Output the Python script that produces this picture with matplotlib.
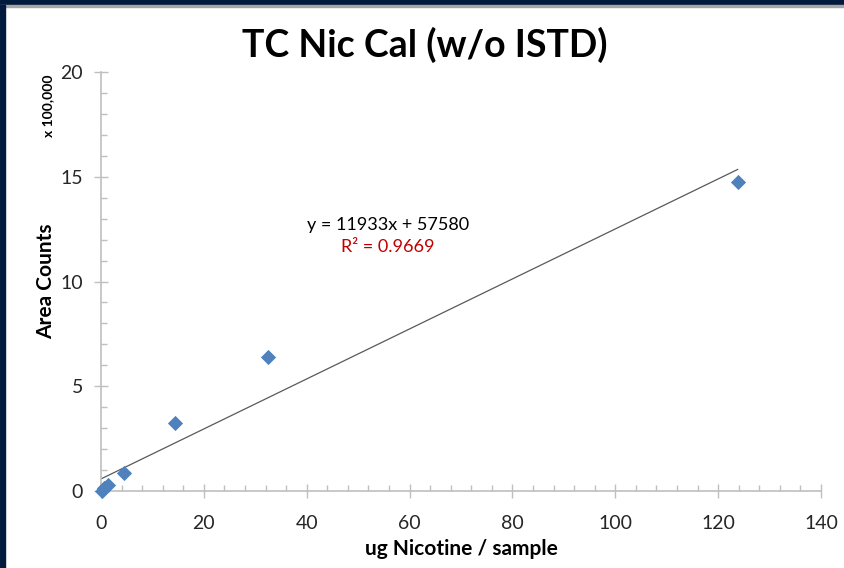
import matplotlib.pyplot as plt
import numpy as np
from matplotlib.patches import Rectangle
from matplotlib.ticker import MultipleLocator

# data in units of 100,000 area counts
nic_ug = [0.1, 0.6, 1.3, 4.5, 14.4, 32.5, 123.8]
area = [0.02, 0.14, 0.30, 0.86, 3.25, 6.40, 14.75]
slope = 11933
intercept = 57580
r2 = 0.9669

plt.rcParams['font.family'] = ['Lato', 'DejaVu Sans']

fig = plt.figure(figsize=(8.44, 5.68), dpi=100)
ax = fig.add_axes([0.1197, 0.1356, 0.853, 0.7376])

# dark frame bands of the slide
fig.patches.append(Rectangle((0, 1 - 5/568), 1, 5/568, transform=fig.transFigure, color='#021a3d', zorder=0))
fig.patches.append(Rectangle((0, 1 - 7/568), 1, 2/568, transform=fig.transFigure, color='#a6a6a6', zorder=0))
fig.patches.append(Rectangle((0, 0), 5/844, 1 - 5/568, transform=fig.transFigure, color='#021a3d', zorder=0))

xfit = np.array([0, max(nic_ug)])
yfit = (slope * xfit + intercept) / 1e5
ax.plot(xfit, yfit, color='#595959', lw=0.9, zorder=2)
ax.scatter(nic_ug, area, marker='D', s=60, color='#4f81bd', zorder=3, linewidths=0, clip_on=False)

ax.set_xlim(0, 140)
ax.set_ylim(0, 20)
ax.xaxis.set_major_locator(MultipleLocator(20))
ax.xaxis.set_minor_locator(MultipleLocator(4))
ax.yaxis.set_major_locator(MultipleLocator(5))
ax.yaxis.set_minor_locator(MultipleLocator(1))

for s in ['top', 'right']:
    ax.spines[s].set_visible(False)
for s in ['left', 'bottom']:
    ax.spines[s].set_color('#bfbfbf')
    ax.spines[s].set_linewidth(1.2)

ax.tick_params(which='major', direction='inout', length=10, width=1, color='#bfbfbf',
               labelsize=14, labelcolor='#262626')
ax.tick_params(axis='x', which='major', pad=12)
ax.tick_params(axis='y', which='major', pad=8)
ax.tick_params(which='minor', direction='in', length=4.5, width=1, color='#bfbfbf')

fig.text(425/844, 1 - 45/568, 'TC Nic Cal (w/o ISTD)', fontsize=27, fontweight='bold',
         ha='center', va='center')
ax.set_xlabel('ug Nicotine / sample', fontsize=15, fontweight='bold')
ax.set_ylabel('Area Counts', fontsize=15, fontweight='bold')
ax.xaxis.set_label_coords(0.5, -0.115)
ax.yaxis.set_label_coords(-0.062, 0.5)
fig.text(48/844, 1 - 106/568, 'x 100,000', rotation=90, fontsize=10, fontweight='bold',
         ha='center', va='center')

ax.text(55.8, 12.7, 'y = %dx + %d' % (slope, intercept), fontsize=13, ha='center', va='center',
        color='#000000')
ax.text(55.8, 11.65, 'R² = %.4f' % r2, fontsize=13, ha='center', va='center', color='#c00000')

fig.savefig('out.png', dpi=100)
